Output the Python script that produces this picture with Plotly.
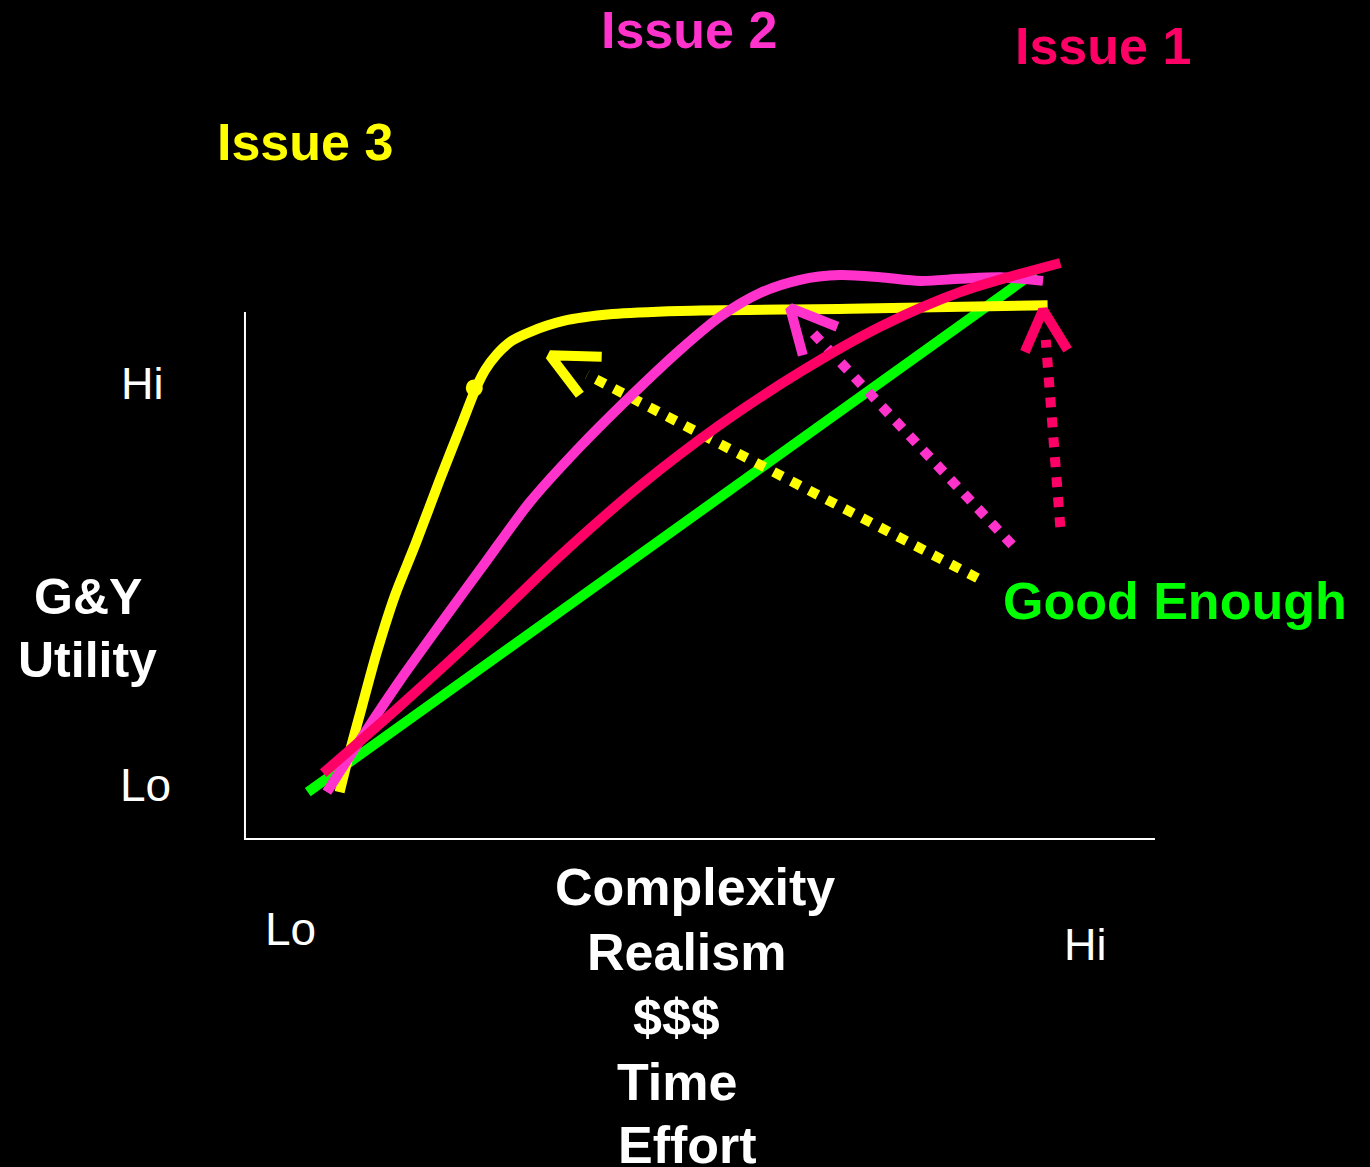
"""Good-enough utility sketch: G&Y utility versus complexity, three issues."""
import plotly.graph_objects as go

# ---- data (x: complexity 0..10, y: utility 0..10) ----
good_x = [0.69, 8.68]
good_y = [0.89, 10.76]

issue3_x = [1.04, 1.15, 1.29, 1.45, 1.65, 1.87, 2.14, 2.40, 2.53, 2.64, 2.77,
            2.93, 3.13, 3.50, 4.04, 4.78, 6.65, 8.82]
issue3_y = [0.89, 1.65, 2.54, 3.55, 4.63, 5.58, 6.81, 7.95, 8.52, 8.90, 9.20,
            9.45, 9.62, 9.83, 9.96, 10.02, 10.06, 10.13]

issue2_x = [0.90, 1.30, 1.70, 2.14, 2.66, 3.13, 3.68, 4.23, 4.78, 5.22, 5.66,
            6.10, 6.54, 6.98, 7.42, 7.86, 8.30, 8.77]
issue2_y = [0.89, 1.97, 3.00, 4.06, 5.29, 6.39, 7.44, 8.39, 9.28, 9.91, 10.36,
            10.61, 10.70, 10.66, 10.59, 10.63, 10.66, 10.59]

issue1_x = [0.86, 1.70, 2.58, 3.46, 4.34, 5.22, 6.10, 6.98, 7.86, 8.96]
issue1_y = [1.25, 2.52, 3.91, 5.37, 6.70, 7.86, 8.86, 9.72, 10.38, 10.93]

# dotted "move to good enough" arrows: shaft (tail -> head) and chevron (arm, tip, arm)
arrow3_shaft_x, arrow3_shaft_y = [8.05, 3.76], [4.95, 8.81]
arrow3_head_x, arrow3_head_y = [3.92, 3.35, 3.68], [9.15, 9.18, 8.43]
arrow2_shaft_x, arrow2_shaft_y = [8.43, 6.21], [5.58, 9.66]
arrow2_head_x, arrow2_head_y = [6.51, 5.99, 6.13], [9.72, 10.08, 9.18]
arrow1_shaft_x, arrow1_shaft_y = [8.96, 8.80], [5.92, 9.47]
arrow1_head_x, arrow1_head_y = [8.57, 8.77, 9.04], [9.24, 10.04, 9.28]

bump_x, bump_y = [2.52], [8.56]

axis_x = [0, 0, 10]
axis_y = [10, 0, 0]

YELLOW = "#FFFF00"
PINK = "#FF33CC"
RED = "#FF0066"
GREEN = "#00FF00"
WHITE = "#FFFFFF"
FONT = "Liberation Sans, Arial, sans-serif"

fig = go.Figure()


def add_line(x, y, color, width=10, dash="solid", shape="linear"):
    fig.add_trace(go.Scatter(
        x=x, y=y, mode="lines", hoverinfo="skip",
        line=dict(color=color, width=width, dash=dash, shape=shape,
                  smoothing=0.8 if shape == "spline" else None),
    ))


add_line(axis_x, axis_y, WHITE, width=2)
add_line(good_x, good_y, GREEN)
add_line(issue3_x, issue3_y, YELLOW, shape="spline")
fig.add_trace(go.Scatter(x=bump_x, y=bump_y, mode="markers", hoverinfo="skip",
                         marker=dict(color=YELLOW, size=17)))
add_line(arrow3_shaft_x, arrow3_shaft_y, YELLOW, dash="10px,10px")
add_line(arrow3_head_x, arrow3_head_y, YELLOW)
add_line(issue2_x, issue2_y, PINK, shape="spline")
add_line(arrow2_shaft_x, arrow2_shaft_y, PINK, dash="10px,10px")
add_line(arrow2_head_x, arrow2_head_y, PINK)
add_line(issue1_x, issue1_y, RED, shape="spline")
add_line(arrow1_shaft_x, arrow1_shaft_y, RED, dash="10px,10px")
add_line(arrow1_head_x, arrow1_head_y, RED)

labels = [
    # text, x, y, color, bold, size
    ("Issue 2", 4.88, 15.35, PINK, True, 52),
    ("Issue 1", 9.43, 15.05, RED, True, 52),
    ("Issue 3", 0.66, 13.23, YELLOW, True, 52),
    ("Good Enough", 10.22, 4.52, GREEN, True, 52),
    ("G&Y", -1.73, 4.59, WHITE, True, 50),
    ("Utility", -1.73, 3.40, WHITE, True, 50),
    ("Hi", -1.13, 8.65, WHITE, False, 45),
    ("Lo", -1.09, 1.03, WHITE, False, 46),
    ("Lo", 0.50, -1.71, WHITE, False, 46),
    ("Hi", 9.24, -2.01, WHITE, False, 45),
    ("Complexity", 4.95, -0.91, WHITE, True, 52),
    ("Realism", 4.85, -2.14, WHITE, True, 52),
    ("$$$", 4.74, -3.38, WHITE, True, 52),
    ("Time", 4.75, -4.61, WHITE, True, 52),
    ("Effort", 4.86, -5.81, WHITE, True, 52),
]
for text, x, y, color, bold, size in labels:
    fig.add_annotation(
        x=x, y=y, xref="x", yref="y", showarrow=False,
        text=f"<b>{text}</b>" if bold else text,
        font=dict(family=FONT, size=size, color=color),
        xanchor="center", yanchor="middle",
    )

fig.update_layout(
    width=1370, height=1167,
    margin=dict(l=0, r=0, t=0, b=0),
    paper_bgcolor="black", plot_bgcolor="black",
    showlegend=False,
    xaxis=dict(range=[-2.692, 12.363], visible=False, fixedrange=True),
    yaxis=dict(range=[-6.224, 15.920], visible=False, fixedrange=True),
)

# drop the page's default body margin so the slide fills the window
fig.write_html(
    "out.html",
    config={"displayModeBar": False},
    post_script="document.body.style.margin='0';document.body.style.background='black';",
)
